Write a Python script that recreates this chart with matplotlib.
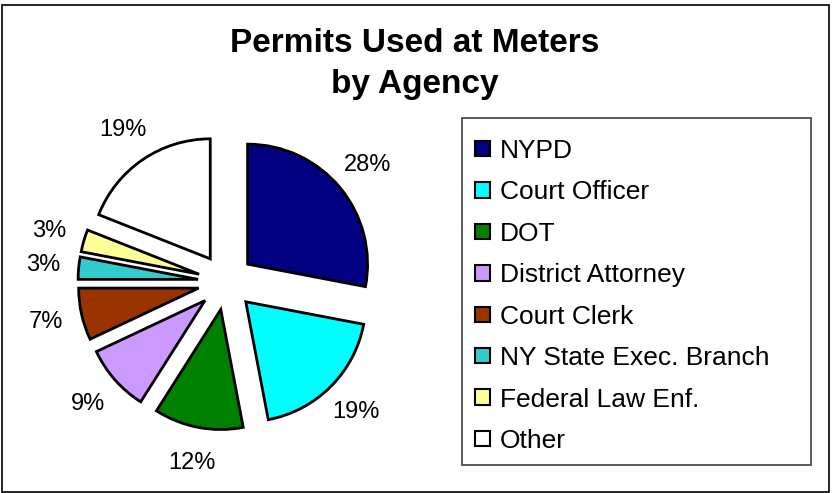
import matplotlib
matplotlib.use("Agg")
import matplotlib.pyplot as plt
from matplotlib.patches import Rectangle

categories = ["NYPD", "Court Officer", "DOT", "District Attorney", "Court Clerk",
              "NY State Exec. Branch", "Federal Law Enf.", "Other"]
values = [28, 19, 12, 9, 7, 3, 3, 19]
colors = ["#000080", "#00FFFF", "#008000", "#CC99FF", "#993300", "#33CCCC", "#FFFF99", "#FFFFFF"]
pct_labels = [f"{v}%" for v in values]
title_lines = ["Permits Used at Meters", "by Agency"]

plt.rcParams['font.family'] = ['Liberation Sans', 'DejaVu Sans']

W, H = 833, 493
fig = plt.figure(figsize=(W / 100, H / 100), dpi=100)
ax = fig.add_axes([0, 0, 1, 1])

wedges, texts = ax.pie(values, colors=colors, labels=pct_labels, startangle=90,
                       counterclock=False, center=(226, 211), radius=120,
                       explode=[28] * len(values), labeldistance=1.3,
                       wedgeprops=dict(edgecolor="black", linewidth=2),
                       textprops=dict(ha="center", va="center", fontsize=17, color="black"))
for t in texts:
    t.set_ha("center")
    t.set_va("center")
ax.set_xlim(0, W)
ax.set_ylim(0, H)
ax.set_aspect("auto")
ax.axis("off")

for line, base_y in zip(title_lines, [52, 93]):
    fig.text(415 / W, 1 - base_y / H, line, ha="center", va="baseline", fontsize=24,
             fontweight="bold")

# legend frame
ax.add_patch(Rectangle((462, H - 465), 349, 347, facecolor="none", edgecolor="#404040",
                       linewidth=1.2))
leg = ax.legend(wedges, categories, loc="center left",
                bbox_to_anchor=(475 / W, (H - 296) / H), bbox_transform=fig.transFigure,
                frameon=False, fontsize=19, handlelength=0.57, handleheight=0.52,
                handletextpad=0.38, labelspacing=0.66, borderpad=0, borderaxespad=0)
for h in leg.legend_handles:
    h.set_linewidth(1.5)
    h.set_edgecolor("black")

# figure border
fig.add_artist(Rectangle((1.5 / W, 1.5 / H), (W - 6) / W, (H - 6) / H,
                         transform=fig.transFigure, facecolor="none",
                         edgecolor="black", linewidth=1.2))

fig.savefig("out.png", dpi=100)
